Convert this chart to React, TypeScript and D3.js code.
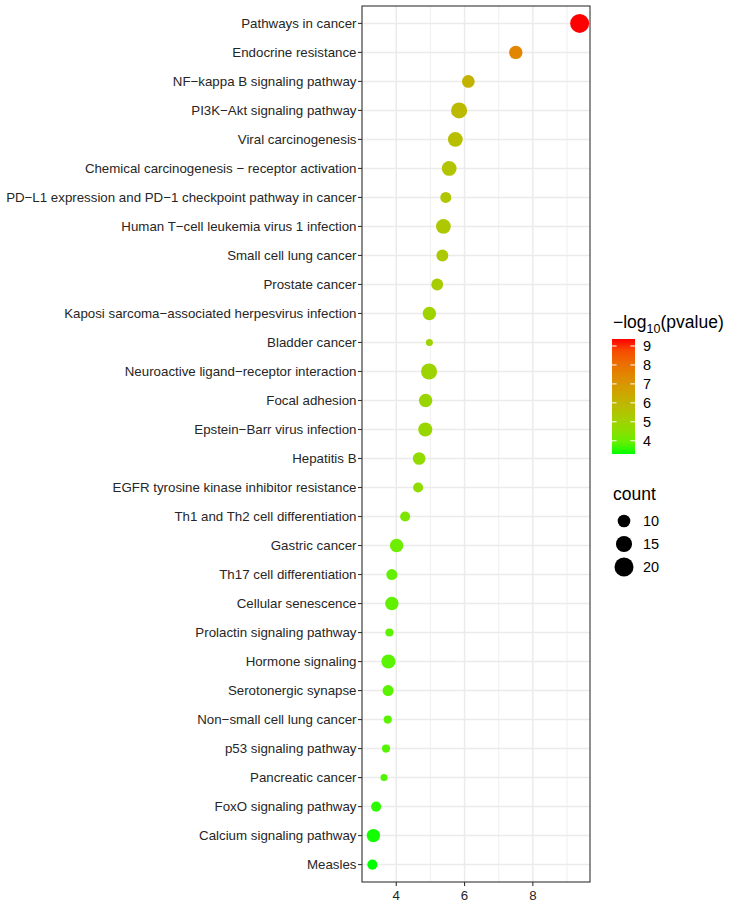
import { useEffect, useRef } from 'react';
import * as d3 from 'd3';

const pathways = [
    'Pathways in cancer',
    'Endocrine resistance',
    'NF−kappa B signaling pathway',
    'PI3K−Akt signaling pathway',
    'Viral carcinogenesis',
    'Chemical carcinogenesis − receptor activation',
    'PD−L1 expression and PD−1 checkpoint pathway in cancer',
    'Human T−cell leukemia virus 1 infection',
    'Small cell lung cancer',
    'Prostate cancer',
    'Kaposi sarcoma−associated herpesvirus infection',
    'Bladder cancer',
    'Neuroactive ligand−receptor interaction',
    'Focal adhesion',
    'Epstein−Barr virus infection',
    'Hepatitis B',
    'EGFR tyrosine kinase inhibitor resistance',
    'Th1 and Th2 cell differentiation',
    'Gastric cancer',
    'Th17 cell differentiation',
    'Cellular senescence',
    'Prolactin signaling pathway',
    'Hormone signaling',
    'Serotonergic synapse',
    'Non−small cell lung cancer',
    'p53 signaling pathway',
    'Pancreatic cancer',
    'FoxO signaling pathway',
    'Calcium signaling pathway',
    'Measles',
];

// -log10(pvalue), used for x and colour
const logP = [
    9.37, 7.50, 6.11, 5.84, 5.73, 5.55, 5.45, 5.38, 5.35, 5.20,
    4.97, 4.97, 4.96, 4.86, 4.85, 4.67, 4.64, 4.26, 4.01, 3.87,
    3.87, 3.80, 3.77, 3.76, 3.75, 3.70, 3.64, 3.41, 3.33, 3.30,
];

const counts = [
    20, 11, 10, 15, 13, 13, 8, 13, 9, 9,
    11, 4, 15, 11, 12, 10, 7, 7, 11, 8,
    11, 5, 12, 8, 5, 5, 4, 7, 11, 7,
];

const xTicks = [4, 6, 8];
const xMinor = [3, 5, 7, 9];
const colorTicks = [4, 5, 6, 7, 8, 9];
const sizeBreaks = [10, 15, 20];

const W = 733;
const H = 903;
const FONT = '"Liberation Sans", Arial, sans-serif';
const AXIS_TEXT = '#262626';

export default function App() {
    const svgRef = useRef<SVGSVGElement>(null);

    useEffect(() => {
        if (!svgRef.current) return;
        const svg = d3.select(svgRef.current);
        svg.selectAll('*').remove();

        const panel = { left: 362, right: 590, top: 6, bottom: 882 };
        const rows = pathways.map((p, i) => ({ name: p, x: logP[i], count: counts[i] }));

        const [xmin, xmax] = d3.extent(logP) as [number, number];
        const pad = (xmax - xmin) * 0.05;
        const x = d3.scaleLinear().domain([xmin - pad, xmax + pad]).range([panel.left, panel.right]);
        const y = d3.scalePoint<string>().domain(pathways).range([panel.top, panel.bottom]).padding(0.6);

        const color = d3.scaleLinear<string>()
            .domain(d3.extent(logP) as [number, number])
            .range(['#00FF00', '#FF0000'])
            .interpolate(d3.interpolateLab);

        const [cmin, cmax] = d3.extent(counts) as [number, number];
        const rScale = d3.scaleLinear().domain([Math.sqrt(cmin), Math.sqrt(cmax)]).range([3.5, 9.5]);
        const r = (c: number) => rScale(Math.sqrt(c));

        // panel background + grid
        svg.append('rect')
            .attr('x', panel.left).attr('y', panel.top)
            .attr('width', panel.right - panel.left).attr('height', panel.bottom - panel.top)
            .attr('fill', '#fff');

        svg.append('g').selectAll('line')
            .data(xMinor.filter(v => x(v) > panel.left && x(v) < panel.right))
            .join('line')
            .attr('x1', d => x(d)).attr('x2', d => x(d))
            .attr('y1', panel.top).attr('y2', panel.bottom)
            .attr('stroke', '#EBEBEB').attr('stroke-width', 0.8);

        svg.append('g').selectAll('line')
            .data(xTicks)
            .join('line')
            .attr('x1', d => x(d)).attr('x2', d => x(d))
            .attr('y1', panel.top).attr('y2', panel.bottom)
            .attr('stroke', '#EBEBEB').attr('stroke-width', 1.5);

        svg.append('g').selectAll('line')
            .data(pathways)
            .join('line')
            .attr('x1', panel.left).attr('x2', panel.right)
            .attr('y1', d => y(d)!).attr('y2', d => y(d)!)
            .attr('stroke', '#EBEBEB').attr('stroke-width', 1.5);

        // points
        svg.append('g').selectAll('circle')
            .data(rows)
            .join('circle')
            .attr('cx', d => x(d.x))
            .attr('cy', d => y(d.name)!)
            .attr('r', d => r(d.count))
            .attr('fill', d => color(d.x));

        // border
        svg.append('rect')
            .attr('x', panel.left).attr('y', panel.top)
            .attr('width', panel.right - panel.left).attr('height', panel.bottom - panel.top)
            .attr('fill', 'none').attr('stroke', '#333').attr('stroke-width', 1.1);

        // y axis
        const yAxis = svg.append('g');
        yAxis.selectAll('line')
            .data(pathways)
            .join('line')
            .attr('x1', panel.left - 4).attr('x2', panel.left)
            .attr('y1', d => y(d)!).attr('y2', d => y(d)!)
            .attr('stroke', '#333').attr('stroke-width', 1.1);
        yAxis.selectAll('text')
            .data(pathways)
            .join('text')
            .attr('x', panel.left - 5.5)
            .attr('y', d => y(d)!)
            .attr('dy', '0.35em')
            .attr('text-anchor', 'end')
            .attr('font-family', FONT)
            .attr('font-size', 13.3)
            .attr('fill', AXIS_TEXT)
            .text(d => d);

        // x axis
        const xAxis = svg.append('g');
        xAxis.selectAll('line')
            .data(xTicks)
            .join('line')
            .attr('x1', d => x(d)).attr('x2', d => x(d))
            .attr('y1', panel.bottom).attr('y2', panel.bottom + 4)
            .attr('stroke', '#333').attr('stroke-width', 1.1);
        xAxis.selectAll('text')
            .data(xTicks)
            .join('text')
            .attr('x', d => x(d))
            .attr('y', panel.bottom + 18)
            .attr('text-anchor', 'middle')
            .attr('font-family', FONT)
            .attr('font-size', 13.3)
            .attr('fill', AXIS_TEXT)
            .text(d => d);

        // colour legend
        const leg = { x: 612, w: 23, top: 339, bottom: 454 };
        const defs = svg.append('defs');
        const grad = defs.append('linearGradient')
            .attr('id', 'pgrad')
            .attr('x1', 0).attr('x2', 0).attr('y1', 1).attr('y2', 0);
        d3.range(0, 1.0001, 0.1).forEach(t => {
            const v = color.domain()[0] + t * (color.domain()[1] - color.domain()[0]);
            grad.append('stop').attr('offset', t).attr('stop-color', color(v));
        });

        const title = svg.append('text')
            .attr('x', leg.x + 1)
            .attr('y', 328)
            .attr('font-family', FONT)
            .attr('font-size', 17.5)
            .attr('fill', '#000');
        title.append('tspan').text('−log');
        title.append('tspan').attr('font-size', 12.5).attr('dy', 4.5).text('10');
        title.append('tspan').attr('dy', -4.5).text('(pvalue)');

        const cy = d3.scaleLinear().domain(color.domain()).range([leg.bottom, leg.top]);
        svg.append('rect')
            .attr('x', leg.x).attr('y', leg.top)
            .attr('width', leg.w).attr('height', leg.bottom - leg.top)
            .attr('fill', 'url(#pgrad)');
        const ct = svg.append('g');
        ct.selectAll('line.l')
            .data(colorTicks)
            .join('line')
            .attr('class', 'l')
            .attr('x1', leg.x).attr('x2', leg.x + 4.6)
            .attr('y1', d => cy(d)).attr('y2', d => cy(d))
            .attr('stroke', '#fff').attr('stroke-width', 1);
        ct.selectAll('line.r')
            .data(colorTicks)
            .join('line')
            .attr('class', 'r')
            .attr('x1', leg.x + leg.w - 4.6).attr('x2', leg.x + leg.w)
            .attr('y1', d => cy(d)).attr('y2', d => cy(d))
            .attr('stroke', '#fff').attr('stroke-width', 1);
        ct.selectAll('text')
            .data(colorTicks)
            .join('text')
            .attr('x', 643)
            .attr('y', d => cy(d))
            .attr('dy', '0.36em')
            .attr('font-family', FONT)
            .attr('font-size', 14.5)
            .attr('fill', '#000')
            .text(d => d);

        // size legend
        svg.append('text')
            .attr('x', leg.x + 1)
            .attr('y', 500)
            .attr('font-family', FONT)
            .attr('font-size', 17.5)
            .attr('fill', '#000')
            .text('count');
        const sy = d3.scalePoint<number>().domain(sizeBreaks).range([521, 567]);
        const sl = svg.append('g');
        sl.selectAll('circle')
            .data(sizeBreaks)
            .join('circle')
            .attr('cx', 624)
            .attr('cy', d => sy(d)!)
            .attr('r', d => r(d))
            .attr('fill', '#000');
        sl.selectAll('text')
            .data(sizeBreaks)
            .join('text')
            .attr('x', 643)
            .attr('y', d => sy(d)!)
            .attr('dy', '0.36em')
            .attr('font-family', FONT)
            .attr('font-size', 14.5)
            .attr('fill', '#000')
            .text(d => d);
    }, []);

    return (
        <svg
            ref={svgRef}
            width={W}
            height={H}
            style={{ position: 'absolute', left: 0, top: 0, background: '#fff' }}
        />
    );
}
